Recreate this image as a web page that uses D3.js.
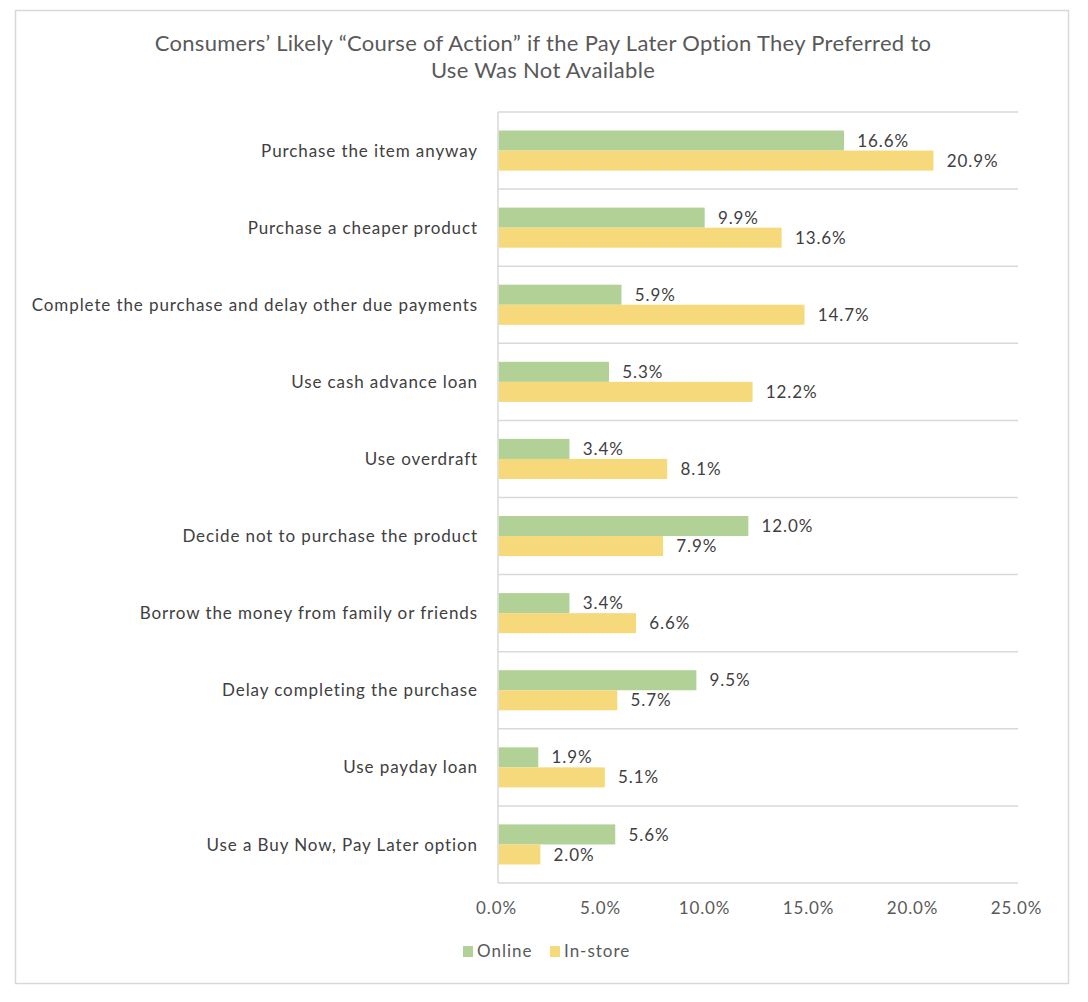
<!DOCTYPE html>
<html><head><meta charset="utf-8">
<script src="https://cdn.jsdelivr.net/npm/d3@7"></script>
<style>
body{margin:0;background:#fff;}
svg text{font-family:Lato,"Open Sans",sans-serif;}
</style></head>
<body><div id="chart"></div>
<script>
const categories = [
  "Purchase the item anyway",
  "Purchase a cheaper product",
  "Complete the purchase and delay other due payments",
  "Use cash advance loan",
  "Use overdraft",
  "Decide not to purchase the product",
  "Borrow the money from family or friends",
  "Delay completing the purchase",
  "Use payday loan",
  "Use a Buy Now, Pay Later option"
];
const seriesNames = ["Online", "In-store"];
const online  = [16.6, 9.9, 5.9, 5.3, 3.4, 12.0, 3.4, 9.5, 1.9, 5.6];
const instore = [20.9, 13.6, 14.7, 12.2, 8.1, 7.9, 6.6, 5.7, 5.1, 2.0];
const tickValues = [0, 5, 10, 15, 20, 25];
const colors = ["#B2D196", "#F6D97A"];
const titleLines = ["Consumers\u2019 Likely \u201cCourse of Action\u201d if the Pay Later Option They Preferred to", "Use Was Not Available"];

const W = 1088, H = 1002;
const svg = d3.select("#chart").append("svg").attr("width", W).attr("height", H);

// outer border
svg.append("rect").attr("x", 15.5).attr("y", 10.5).attr("width", 1053).attr("height", 973)
  .attr("fill", "#fff").attr("stroke", "#D9D9D9").attr("stroke-width", 1.5);

const pLeft = 498, pRight = 1018, pTop = 112, pBottom = 883;
const x = d3.scaleLinear().domain([0, 25]).range([pLeft, pRight]);
const y = d3.scaleBand().domain(categories).range([pTop, pBottom]).paddingInner(0).paddingOuter(0);
const bandInner = y.bandwidth() * 0.52;
const sub = d3.scaleBand().domain(seriesNames).range([0, bandInner]);

// horizontal gridlines at band boundaries
const bounds = categories.map(c => y(c)).concat([pBottom]);
svg.append("g").selectAll("line").data(bounds).join("line")
  .attr("x1", pLeft).attr("x2", pRight).attr("y1", d => d).attr("y2", d => d)
  .attr("stroke", "#D9D9D9").attr("stroke-width", 1.5);
// vertical axis line
svg.append("line").attr("x1", pLeft).attr("x2", pLeft).attr("y1", pTop).attr("y2", pBottom)
  .attr("stroke", "#D9D9D9").attr("stroke-width", 1.5);

// title
svg.append("text").attr("x", 543).attr("y", 51).attr("text-anchor", "middle")
  .attr("font-size", 22).attr("fill", "#595959").attr("letter-spacing", 0.3)
  .selectAll("tspan").data(titleLines).join("tspan")
  .attr("x", 543).attr("dy", (d, i) => i ? 27 : 0).text(d => d);

// bars
const data = [online, instore];
const gs = svg.append("g");
categories.forEach((c, i) => {
  const y0 = y(c) + (y.bandwidth() - bandInner) / 2;
  seriesNames.forEach((s, k) => {
    const v = data[k][i];
    gs.append("rect").attr("x", x(0) + 0.75).attr("y", y0 + sub(s))
      .attr("width", x(v) - x(0)).attr("height", sub.bandwidth()).attr("fill", colors[k]);
    gs.append("text").attr("x", x(v) + 14).attr("y", y0 + sub(s) + sub.bandwidth() / 2)
      .attr("dy", "0.36em").attr("font-size", 17).attr("fill", "#404040")
      .attr("letter-spacing", 0.9).text(v.toFixed(1) + "%");
  });
});

// category labels
svg.append("g").selectAll("text").data(categories).join("text")
  .attr("x", 478).attr("y", d => y(d) + y.bandwidth() / 2).attr("dy", "0.36em")
  .attr("text-anchor", "end").attr("font-size", 17).attr("fill", "#404040")
  .attr("letter-spacing", 0.9).text(d => d);

// x axis tick labels
const xAxis = d3.axisBottom(x).tickValues(tickValues).tickSize(0).tickPadding(0)
  .tickFormat(d => d.toFixed(1) + "%");
const ax = svg.append("g").attr("transform", `translate(-2,${pBottom + 25})`).call(xAxis);
ax.select(".domain").remove();
ax.selectAll("text").attr("font-size", 17).attr("fill", "#595959")
  .attr("letter-spacing", 0.9).attr("dy", "0.36em").attr("font-family", "Lato,sans-serif");

// legend
const legendItems = [{name: "Online", x: 463}, {name: "In-store", x: 550}];
const lg = svg.append("g");
legendItems.forEach((d, k) => {
  lg.append("rect").attr("x", d.x).attr("y", 946).attr("width", 10).attr("height", 11).attr("fill", colors[k]);
  lg.append("text").attr("x", d.x + 14).attr("y", 951).attr("dy", "0.36em")
    .attr("font-size", 17).attr("fill", "#595959").attr("letter-spacing", 1).text(d.name);
});
</script></body></html>
